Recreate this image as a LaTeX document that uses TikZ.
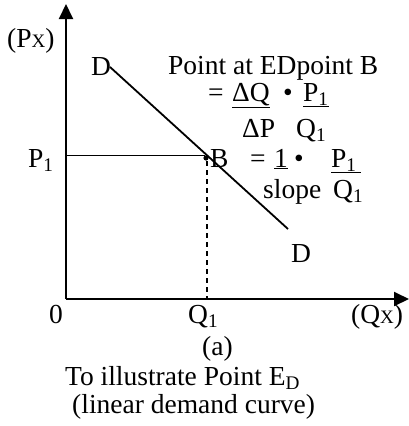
\documentclass[tikz,border=0pt]{standalone}
\usepackage{fontspec}
\setmainfont{Liberation Serif}
\usetikzlibrary{arrows.meta}
\tikzset{
  lbl/.style={inner sep=0pt, anchor=base west, font=\fontsize{27.5}{32}\selectfont},
  axis/.style={line width=2pt, -{Triangle[length=15pt,width=14pt]}},
  curve/.style={line width=1.8pt},
  guide/.style={line width=1.6pt, dash pattern=on 5pt off 4pt}
}
\newcommand{\lsub}[1]{\textsubscript{#1}}
\begin{document}
\begin{tikzpicture}[x=1pt,y=-1pt]
\useasboundingbox (0,0) rectangle (409,426);
% coordinates
\coordinate (O) at (66,299);
\coordinate (Ytop) at (66,4);
\coordinate (Xend) at (409,299);
\coordinate (Da) at (110,67);
\coordinate (Db) at (288,229);
\coordinate (B) at (205,155.5);
\coordinate (Pa) at (66,155.5);
\coordinate (Bd) at (207,161);
\coordinate (Qa) at (207,299);
% axes
\draw[axis] (O) -- (Ytop);
\draw[axis] (O) -- (Xend);
% demand line
\draw[curve] (Da) -- (Db);
% guides
\draw[curve] (Pa) -- (B);
\draw[guide] (Bd) -- (Qa);
\fill (206,158) circle (2.6pt) node (dot) {};
% labels
\node[lbl] (py) at (7,47) {(P{\fontsize{19}{20}\selectfont X})};
\node[lbl] (d1) at (91,75) {D};
\node[lbl] (p1) at (28,167) {P\lsub{1}};
\node[lbl] (bl) at (210,167) {B};
\node[lbl] (d2) at (291,262) {D};
\node[lbl] (zero) at (49,323) {0};
\node[lbl] (q1) at (188,323) {Q\lsub{1}};
\node[lbl] (qx) at (351,323) {(Q{\fontsize{19}{20}\selectfont X})};
\node[lbl] (a) at (202,355) {(a)};
\node[lbl] (t1) at (65,385) {To illustrate Point E\lsub{D}};
\node[lbl] (t2) at (72,413) {(linear demand curve)};
% formula
\node[lbl] (f1) at (168,74) {Point at EDpoint B};
\node[lbl] (f2a) at (208,101) {=};
\node[lbl] (f2b) at (232,101) {\underline{ΔQ}};
\node[lbl] (f2c) at (283,101) {•};
\node[lbl] (f2d) at (303,101) {\underline{P\lsub{1}}};
\node[lbl] (f3a) at (242,137) {ΔP};
\node[lbl] (f3b) at (296,137) {Q\lsub{1}};
\node[lbl] (f4a) at (250,167) {=};
\node[lbl] (f4b) at (274,167) {\underline{1}};
\node[lbl] (f4c) at (294,167) {•};
\node[lbl] (f4d) at (331,167) {\underline{P\lsub{1}\,}};
\node[lbl] (f5a) at (263,198) {slope};
\node[lbl] (f5b) at (333,198) {Q\lsub{1}};
\end{tikzpicture}
\end{document}
